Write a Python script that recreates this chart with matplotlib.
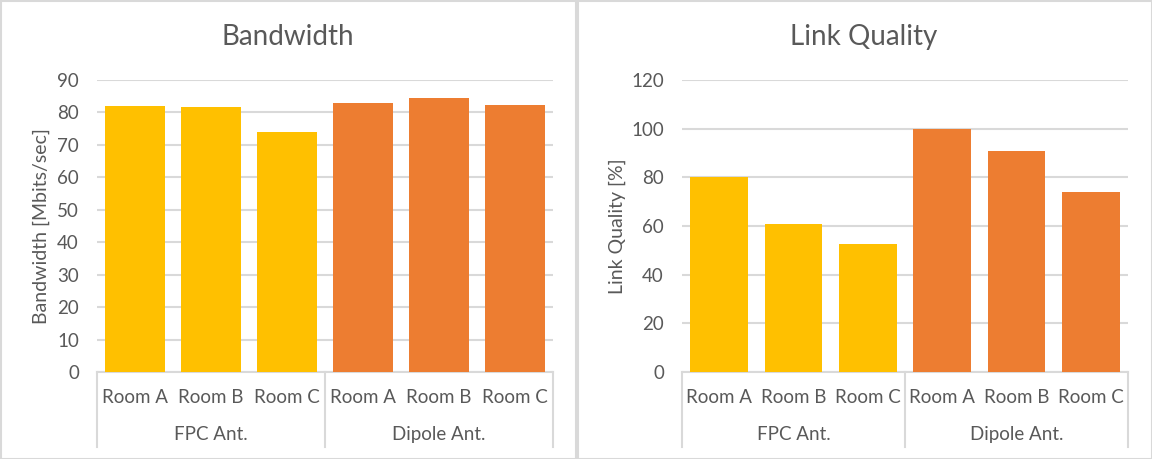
import matplotlib
matplotlib.use("Agg")
import matplotlib.pyplot as plt
from matplotlib.patches import Rectangle
import matplotlib.transforms as mtransforms

# chart data
rooms = ["Room A", "Room B", "Room C", "Room A", "Room B", "Room C"]
groups = ["FPC Ant.", "Dipole Ant."]
bandwidth = [82.0, 81.7, 74.0, 82.9, 84.5, 82.3]
link_quality = [80, 61, 52.7, 100, 91, 74]
bar_colors = ["#FFC000"] * 3 + ["#ED7D31"] * 3

TEXT = "#595959"
GRID = "#D9D9D9"
W, H = 1152, 459

plt.rcParams["font.family"] = ["Lato", "DejaVu Sans"]

fig = plt.figure(figsize=(W / 100, H / 100), dpi=100)


def px_axes(x0, x1, y_top, y_bot):
    return fig.add_axes([x0 / W, (H - y_bot) / H, (x1 - x0) / W, (y_bot - y_top) / H])


def draw_panel(ax, values, ymax, step, title, ylabel, cx, ylab_x):
    xs = list(range(len(values)))
    ax.bar(xs, values, width=0.78, color=bar_colors, zorder=3)
    ax.set_xlim(-0.5, len(values) - 0.5)
    ax.set_ylim(0, ymax)
    ax.set_yticks(range(0, ymax + 1, step))
    ax.yaxis.grid(True, color=GRID, linewidth=1.5, zorder=0)
    ax.set_axisbelow(True)
    for s in ["top", "left", "right"]:
        ax.spines[s].set_visible(False)
    ax.spines["bottom"].set_color(GRID)
    ax.spines["bottom"].set_linewidth(1.5)
    ax.tick_params(axis="both", length=0, colors=TEXT, labelsize=13.5)
    ax.tick_params(axis="y", pad=13)
    ax.tick_params(axis="x", pad=12.5)
    ax.set_xticks(xs)
    ax.set_xticklabels(rooms)

    # group separators and group labels below the category axis
    trans = mtransforms.blended_transform_factory(ax.transData, ax.transAxes)
    for xsep in [-0.5, 2.5, 5.5]:
        ax.plot([xsep, xsep], [0, -0.257], transform=trans, color=GRID,
                linewidth=1.5, clip_on=False)
    for gi, g in enumerate(groups):
        ax.text(gi * 3 + 1, -0.213, g, transform=trans, ha="center", va="center",
                color=TEXT, fontsize=13.5)

    fig.text(cx / W, (H - 37) / H, title, ha="center", va="center",
             color=TEXT, fontsize=20)
    fig.text(ylab_x / W, (H - 226) / H, ylabel, ha="center", va="center",
             rotation=90, color=TEXT, fontsize=14)


ax1 = px_axes(97, 553, 80, 372)
draw_panel(ax1, bandwidth, 90, 10, "Bandwidth", "Bandwidth [Mbits/sec]", 288, 41)

ax2 = px_axes(682, 1128, 80, 372)
draw_panel(ax2, link_quality, 120, 20, "Link Quality", "Link Quality [%]", 864, 617)

# panel borders
for x0, x1 in [(0.5, 575.5), (577.5, 1151.5)]:
    fig.patches.append(Rectangle((x0 / W, 0.5 / H), (x1 - x0) / W, (H - 1) / H,
                                 transform=fig.transFigure, fill=False,
                                 edgecolor=GRID, linewidth=1.5))

fig.savefig("out.png", dpi=100)
